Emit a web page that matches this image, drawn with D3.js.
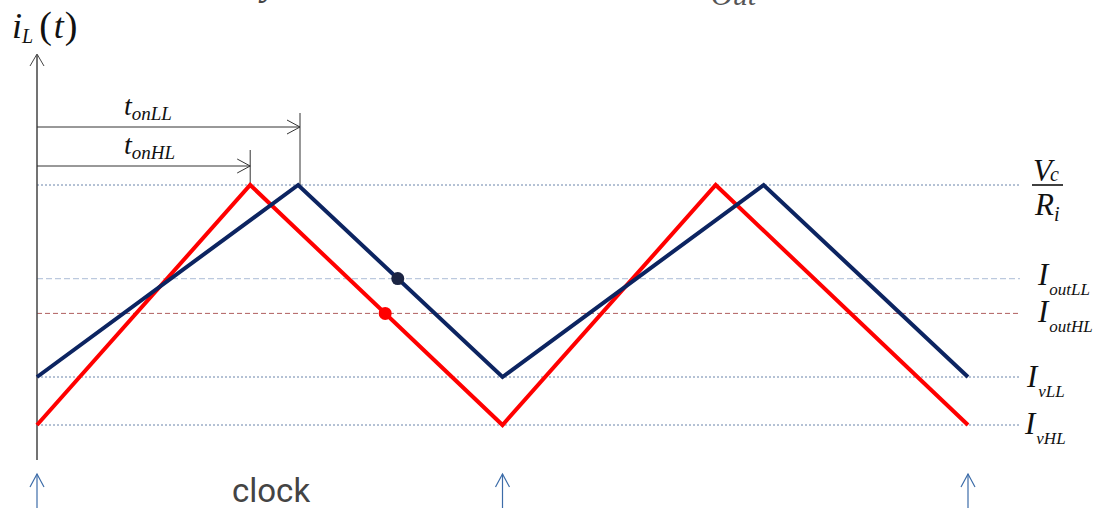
<!DOCTYPE html>
<html>
<head>
<meta charset="utf-8">
<script src="https://cdn.jsdelivr.net/npm/d3@7"></script>
<style>
  html, body { margin: 0; padding: 0; background: #fff; }
  svg { display: block; }
  .serif { font-family: "Liberation Serif", "DejaVu Serif", serif; font-style: italic; fill: #111; }
</style>
</head>
<body>
<svg id="chart" width="1093" height="508"></svg>
<script>
// Time is in clock periods, current in arbitrary units (valley of the HL waveform = 0).
const clockTimes = [0, 1, 2];
const redTimes = [0, 0.458, 1, 1.458, 2];
const redValues = [0, 10, 0, 10, 0];
const blueTimes = [0, 0.561, 1, 1.561, 2];
const blueValues = [2, 10, 2, 10, 2];

// Horizontal reference levels
const levelNames = ["VcRi", "IoutLL", "IoutHL", "IvLL", "IvHL"];
const levelValues = [10, 6.1, 4.65, 2, 0];

// On-time markers (in periods) for the first cycle
const tonNames = ["onLL", "onHL"];
const tonValues = [0.565, 0.458];

const svg = d3.select("#chart");

const x = d3.scaleLinear().domain([0, 2]).range([37, 968]);
const y = d3.scaleLinear().domain([0, 10]).range([425, 185]);

const BLUE = "#0c2461";
const RED = "#ff0000";

// Reference level lines
const levelStyle = {
  VcRi:   { stroke: "#6a84aa", dash: "2,2", w: 1 },
  IoutLL: { stroke: "#bcc9de", dash: "6,3", w: 1.2 },
  IoutHL: { stroke: "#b06060", dash: "5,3", w: 1 },
  IvLL:   { stroke: "#6a84aa", dash: "2,2", w: 1 },
  IvHL:   { stroke: "#6a84aa", dash: "2,2", w: 1 }
};
svg.append("g").selectAll("line")
  .data(levelNames.map((n, i) => ({ n, v: levelValues[i] })))
  .join("line")
  .attr("x1", x(0)).attr("x2", 1020)
  .attr("y1", d => y(d.v)).attr("y2", d => y(d.v))
  .attr("stroke", d => levelStyle[d.n].stroke)
  .attr("stroke-width", d => levelStyle[d.n].w)
  .attr("stroke-dasharray", d => levelStyle[d.n].dash);

// Y axis with open arrowhead
const axisG = svg.append("g").attr("stroke", "#444").attr("fill", "none");
axisG.append("line").attr("x1", x(0)).attr("x2", x(0)).attr("y1", 55).attr("y2", 460).attr("stroke-width", 1.5);
axisG.append("path").attr("d", `M${x(0) - 7},66 L${x(0)},54 L${x(0) + 7},66`).attr("stroke-width", 1);

// On-time dimension arrows
const tonY = [127, 166];
const tonTop = [113, 150];
tonNames.forEach((n, i) => {
  const xe = x(tonValues[i]);
  const g = svg.append("g").attr("stroke", "#333").attr("fill", "none").attr("stroke-width", 1);
  g.append("line").attr("x1", x(0)).attr("x2", xe).attr("y1", tonY[i]).attr("y2", tonY[i]);
  g.append("path").attr("d", `M${xe - 13},${tonY[i] - 7} L${xe},${tonY[i]} L${xe - 13},${tonY[i] + 7}`);
  g.append("line").attr("x1", xe).attr("x2", xe).attr("y1", tonTop[i]).attr("y2", y(10));
  const t = svg.append("text").attr("class", "serif").attr("x", 124).attr("y", tonY[i] - 12);
  t.append("tspan").attr("font-size", 28).text("t");
  t.append("tspan").attr("font-size", 19).attr("dy", 5).text(n);
});

// Inductor current waveforms
const line = d3.line().x(d => x(d[0])).y(d => y(d[1]));
svg.append("path")
  .datum(redTimes.map((t, i) => [t, redValues[i]]))
  .attr("d", line).attr("fill", "none").attr("stroke", RED).attr("stroke-width", 4);
svg.append("path")
  .datum(blueTimes.map((t, i) => [t, blueValues[i]]))
  .attr("d", line).attr("fill", "none").attr("stroke", BLUE).attr("stroke-width", 4);

// Average-current points on the falling slopes
function crossing(times, vals, level) {
  const t0 = times[1], v0 = vals[1], t1 = times[2], v1 = vals[2];
  return t0 + (level - v0) / (v1 - v0) * (t1 - t0);
}
const blueDotT = crossing(blueTimes, blueValues, levelValues[1]);
const redDotT = crossing(redTimes, redValues, levelValues[2]);
svg.append("circle").attr("cx", x(blueDotT)).attr("cy", y(levelValues[1])).attr("r", 6.5).attr("fill", "#1b2443");
svg.append("circle").attr("cx", x(redDotT)).attr("cy", y(levelValues[2])).attr("r", 6.5).attr("fill", RED);

// Clock edges
const clk = svg.append("g").attr("stroke", "#3c6ca8").attr("fill", "none").attr("stroke-width", 1.2);
clockTimes.forEach(t => {
  const cx = x(t);
  clk.append("line").attr("x1", cx).attr("x2", cx).attr("y1", 474).attr("y2", 508);
  clk.append("path").attr("d", `M${cx - 7},487 L${cx},474 L${cx + 7},487`);
});
svg.append("text").attr("x", 232).attr("y", 502)
  .attr("font-family", "Roboto, 'Noto Sans', sans-serif").attr("font-size", 33)
  .attr("fill", "#444").text("clock");

// Y-axis title i_L(t)
const yl = svg.append("text").attr("class", "serif").attr("x", 12).attr("y", 38);
yl.append("tspan").attr("font-size", 36).text("i");
yl.append("tspan").attr("font-size", 20).attr("dy", 5).text("L");
yl.append("tspan").attr("font-size", 38).attr("dy", -5).attr("dx", 6).attr("font-style", "normal").text("(");
yl.append("tspan").attr("font-size", 36).attr("dx", 2).text("t");
yl.append("tspan").attr("font-size", 38).attr("dx", 1).attr("font-style", "normal").text(")");

// Right-hand level labels
const vc = svg.append("text").attr("class", "serif").attr("x", 1033).attr("y", 181);
vc.append("tspan").attr("font-size", 31).text("V");
vc.append("tspan").attr("font-size", 20).attr("dx", -2).text("c");
svg.append("line").attr("x1", 1032).attr("x2", 1063).attr("y1", 185).attr("y2", 185).attr("stroke", "#111").attr("stroke-width", 1.6);
const ri = svg.append("text").attr("class", "serif").attr("x", 1035).attr("y", 215);
ri.append("tspan").attr("font-size", 31).text("R");
ri.append("tspan").attr("font-size", 20).attr("dy", 6).text("i");

const rightLabels = [
  { sub: "outLL", x: 1038, y: 285 },
  { sub: "outHL", x: 1038, y: 322 },
  { sub: "vLL",   x: 1027, y: 387 },
  { sub: "vHL",   x: 1025, y: 434 }
];
rightLabels.forEach(d => {
  const t = svg.append("text").attr("class", "serif").attr("x", d.x).attr("y", d.y);
  t.append("tspan").attr("font-size", 31).text("I");
  t.append("tspan").attr("font-size", 17).attr("dy", 10).attr("dx", 1).text(d.sub);
});

// Title fragments above the plot
svg.append("text").attr("class", "serif").attr("x", 262).attr("y", -6)
  .attr("font-size", 40).style("fill", "#444").text("y");
svg.append("text").attr("class", "serif").attr("x", 711).attr("y", 5)
  .attr("font-size", 30).style("fill", "#555").text("Out");
</script>
</body>
</html>
